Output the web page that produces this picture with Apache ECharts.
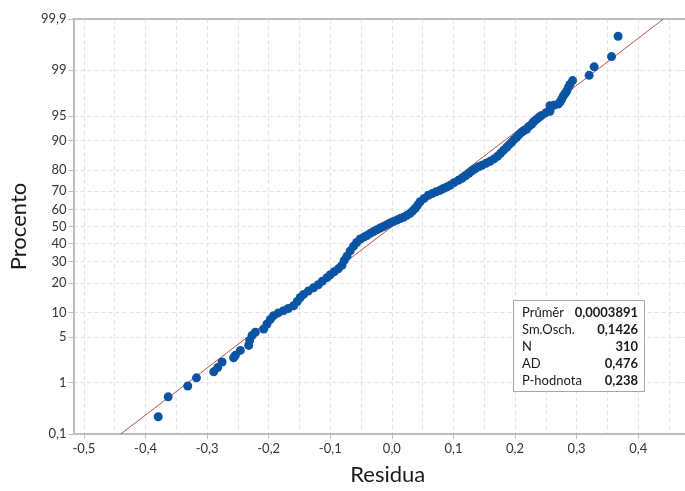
<!DOCTYPE html>
<html>
<head>
<meta charset="utf-8">
<script src="https://cdn.jsdelivr.net/npm/echarts@6/dist/echarts.min.js"></script>
<style>
html, body { margin: 0; padding: 0; background: #fff; }
#chart { width: 685px; height: 491px; }
</style>
</head>
<body>
<div id="chart"></div>
<script>
// osa X - popisky a mrizka
var xTicks = [-0.5, -0.4, -0.3, -0.2, -0.1, 0.0, 0.1, 0.2, 0.3, 0.4];
var xGrid = [-0.5, -0.45, -0.4, -0.35, -0.3, -0.25, -0.2, -0.15, -0.1, -0.05, 0, 0.05, 0.1, 0.15, 0.2, 0.25, 0.3, 0.35, 0.4, 0.45];
// osa Y - pravdepodobnostni meritko (procenta)
var yTicks = [0.1, 1, 5, 10, 20, 30, 40, 50, 60, 70, 80, 90, 95, 99, 99.9];
var yLabels = ['0,1', '1', '5', '10', '20', '30', '40', '50', '60', '70', '80', '90', '95', '99', '99,9'];

// residua a jejich procenta
var residuals = [
  -0.3794, -0.3632, -0.3314, -0.3173, -0.2893, -0.2828, -0.2757, -0.2569, -0.2541, -0.2460,
  -0.2325, -0.2309, -0.2270, -0.2217, -0.2082, -0.2027, -0.1973, -0.1920, -0.1844, -0.1758,
  -0.1682, -0.1596, -0.1536, -0.1487, -0.1433, -0.1357, -0.1271, -0.1195, -0.1130, -0.1054,
  -0.1000, -0.0936, -0.0871, -0.0811, -0.0773, -0.0730, -0.0676, -0.0623, -0.0571, -0.0514,
  -0.0457, -0.0405, -0.0352, -0.0298, -0.0243, -0.0190, -0.0136, -0.0081, -0.0028, 0.0026,
  0.0081, 0.0135, 0.0188, 0.0243, 0.0297, 0.0337, 0.0378, 0.0418, 0.0459, 0.0524,
  0.0593, 0.0653, 0.0718, 0.0783, 0.0837, 0.0892, 0.0945, 0.1010, 0.1080, 0.1140,
  0.1197, 0.1253, 0.1302, 0.1351, 0.1407, 0.1464, 0.1529, 0.1594, 0.1659, 0.1716,
  0.1764, 0.1813, 0.1865, 0.1902, 0.1946, 0.1983, 0.2027, 0.2064, 0.2108, 0.2145,
  0.2189, 0.2226, 0.2270, 0.2307, 0.2351, 0.2389, 0.2432, 0.2502, 0.2567, 0.2567,
  0.2632, 0.2701, 0.2729, 0.2757, 0.2783, 0.2810, 0.2838, 0.2864, 0.2891, 0.2935,
  0.3204, 0.3285, 0.3567, 0.3674
];
var percents = [
  0.23, 0.56, 0.875, 1.21, 1.52, 1.78, 2.18, 2.53, 2.75, 3.25,
  3.83, 4.48, 5.22, 5.76, 6.35, 7.32, 8.33, 9.21, 9.9, 10.5,
  11.1, 11.9, 13.2, 14.5, 15.6, 16.8, 18.1, 19.3, 20.7, 22.3,
  23.6, 25.0, 26.4, 28.2, 30.7, 32.9, 35.8, 38.4, 40.6, 42.6,
  43.7, 44.7, 45.9, 47.0, 48.1, 49.1, 50.0, 51.1, 52.1, 53.0,
  53.8, 54.7, 55.5, 56.6, 57.8, 59.2, 60.6, 62.5, 64.4, 66.2,
  67.9, 68.8, 69.7, 70.5, 71.4, 72.2, 73.0, 74.3, 75.4, 76.4,
  77.5, 78.6, 79.7, 80.5, 81.3, 81.9, 82.7, 83.4, 84.3, 85.2,
  86.2, 87.2, 88.1, 88.8, 89.5, 90.2, 90.8, 91.4, 92.0, 92.35,
  92.6, 93.2, 93.6, 94.1, 94.5, 94.8, 95.1, 95.5, 95.7, 96.4,
  96.45, 96.6, 96.8, 97.1, 97.4, 97.6, 97.8, 98.06, 98.28, 98.51,
  98.78, 99.13, 99.43, 99.77
];

// souhrnne statistiky
var statNames = ['Průměr', 'Sm.Osch.', 'N', 'AD', 'P-hodnota'];
var statValues = ['0,0003891', '0,1426', '310', '0,476', '0,238'];
var mean = 0.0003891, stdev = 0.1426;

// inverzni distribucni funkce normalniho rozdeleni (Acklam)
function probit(p) {
    var a = [-3.969683028665376e+01, 2.209460984245205e+02, -2.759285104469687e+02, 1.383577518672690e+02, -3.066479806614716e+01, 2.506628277459239e+00];
    var b = [-5.447609879822406e+01, 1.615858368580409e+02, -1.556989798598866e+02, 6.680131188771972e+01, -1.328068155288572e+01];
    var c = [-7.784894002430293e-03, -3.223964580411365e-01, -2.400758277161838e+00, -2.549732539343734e+00, 4.374664141464968e+00, 2.938163982698783e+00];
    var d = [7.784695709041462e-03, 3.224671290700398e-01, 2.445134137142996e+00, 3.754408661907416e+00];
    var pl = 0.02425, q, r;
    if (p < pl) {
        q = Math.sqrt(-2 * Math.log(p));
        return (((((c[0]*q+c[1])*q+c[2])*q+c[3])*q+c[4])*q+c[5]) / ((((d[0]*q+d[1])*q+d[2])*q+d[3])*q+1);
    }
    if (p > 1 - pl) {
        q = Math.sqrt(-2 * Math.log(1 - p));
        return -(((((c[0]*q+c[1])*q+c[2])*q+c[3])*q+c[4])*q+c[5]) / ((((d[0]*q+d[1])*q+d[2])*q+d[3])*q+1);
    }
    q = p - 0.5; r = q * q;
    return (((((a[0]*r+a[1])*r+a[2])*r+a[3])*r+a[4])*r+a[5])*q / (((((b[0]*r+b[1])*r+b[2])*r+b[3])*r+b[4])*r+1);
}

var yZ = yTicks.map(function (p) { return probit(p / 100); });
var zMin = yZ[0], zMax = yZ[yZ.length - 1];
var points = residuals.map(function (v, i) { return [v, probit(percents[i] / 100)]; });
var fitLine = [[mean + stdev * zMin, zMin], [mean + stdev * zMax, zMax]];

var FONT = 'Lato';
var myChart = echarts.init(document.getElementById('chart'));

// tabulka se statistikami
var children = [{
    type: 'rect', z: 100,
    shape: { x: 513.5, y: 300.5, width: 131, height: 91 },
    style: { fill: '#fff', stroke: '#a6a6a6', lineWidth: 1 }
}];
statNames.forEach(function (name, i) {
    children.push({
        type: 'text', x: 522, y: 313 + i * 17, z: 101,
        style: { text: name, fill: '#1a1a1a', font: '13px "' + FONT + '"', verticalAlign: 'middle' }
    });
    children.push({
        type: 'text', x: 638, y: 313 + i * 17, z: 101,
        style: { text: statValues[i], fill: '#1a1a1a', font: 'bold 13px "' + FONT + '"', align: 'right', verticalAlign: 'middle' }
    });
});

option = {
    animation: false,
    backgroundColor: '#fff',
    textStyle: { fontFamily: FONT },
    grid: { left: 72.7, right: 0, top: 19, bottom: 53.3 },
    xAxis: [{
        type: 'value',
        min: -0.517, max: 0.476,
        position: 'bottom',
        name: 'Residua',
        nameLocation: 'middle',
        nameGap: 30,
        // v originale je osa vpravo oriznuta, nazev je tedy posunut doprava
        nameTextStyle: { fontSize: 22, color: '#1a1a1a', fontFamily: FONT, padding: [0, 0, 0, 17] },
        axisLine: { onZero: false, lineStyle: { color: '#bdbdbd', width: 2 } },
        axisTick: { customValues: xTicks, length: 5, lineStyle: { color: '#bdbdbd' } },
        axisLabel: {
            customValues: xTicks, margin: 8, fontSize: 13, color: '#333',
            formatter: function (v) { return v.toFixed(1).replace('.', ','); }
        },
        splitLine: { show: false }
    }, {
        type: 'value',
        min: -0.517, max: 0.476,
        position: 'top',
        axisLine: { show: true, onZero: false, lineStyle: { color: '#bdbdbd', width: 2 } },
        axisTick: { show: false, customValues: xGrid },
        axisLabel: { show: false },
        splitLine: { show: true, lineStyle: { color: '#e2e2e2', type: [4, 3], width: 1 } }
    }],
    yAxis: {
        type: 'value',
        min: zMin, max: zMax,
        name: 'Procento',
        nameLocation: 'middle',
        nameGap: 33,
        nameTextStyle: { fontSize: 22, color: '#1a1a1a', fontFamily: FONT },
        axisLine: { show: true, onZero: false, lineStyle: { color: '#bdbdbd', width: 2 } },
        axisTick: { show: true, customValues: yZ, length: 5, lineStyle: { color: '#bdbdbd' } },
        axisLabel: {
            customValues: yZ, margin: 7, fontSize: 13, color: '#333',
            showMinLabel: true, showMaxLabel: true,
            formatter: function (v) {
                for (var i = 0; i < yZ.length; i++) {
                    if (Math.abs(yZ[i] - v) < 1e-6) return yLabels[i];
                }
                return '';
            }
        },
        splitLine: { show: true, lineStyle: { color: '#e2e2e2', type: [4, 3], width: 1 } }
    },
    series: [{
        name: 'fit',
        type: 'line',
        data: fitLine,
        symbol: 'none',
        lineStyle: { color: '#c0504d', width: 1 },
        z: 2
    }, {
        name: 'Residua',
        type: 'scatter',
        data: points,
        symbolSize: 9,
        itemStyle: { color: '#0b54a3', opacity: 1 },
        z: 3
    }],
    graphic: [{ type: 'group', children: children }]
};

myChart.setOption(option);
</script>
</body>
</html>
